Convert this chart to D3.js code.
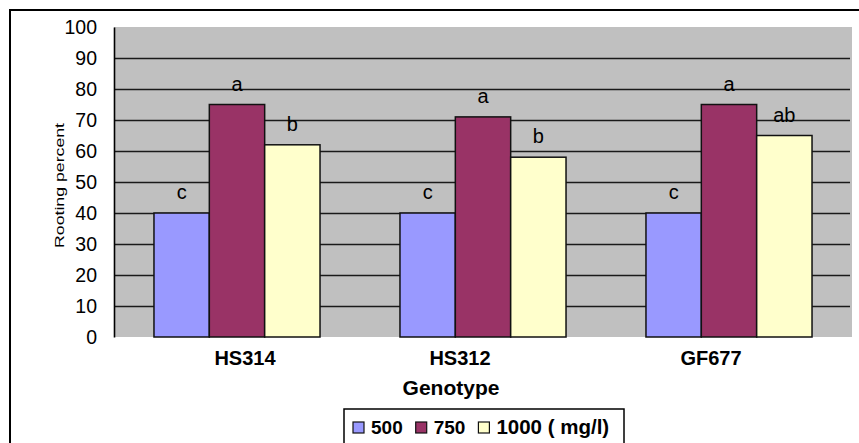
<!DOCTYPE html>
<html>
<head>
<meta charset="utf-8">
<script src="https://cdn.jsdelivr.net/npm/d3@7"></script>
<style>
  html, body { margin: 0; padding: 0; background: #fff; }
  svg { display: block; }
  text { font-family: "Liberation Sans", Arial, sans-serif; fill: #000; }
</style>
</head>
<body>
<svg id="chart" width="859" height="443"></svg>
<script>
// ---- data ----
const categories = ["HS314", "HS312", "GF677"];
const seriesNames = ["500", "750", "1000"];
const legendLabels = ["500", "750", "1000 ( mg/l)"];
const values500 = [40, 40, 40];
const values750 = [75, 71, 75];
const values1000 = [62, 58, 65];
const letters500 = ["c", "c", "c"];
const letters750 = ["a", "a", "a"];
const letters1000 = ["b", "b", "ab"];
const yTicks = [0, 10, 20, 30, 40, 50, 60, 70, 80, 90, 100];
const xTitle = "Genotype";
const yTitle = "Rooting percent";

// ---- layout / style ----
const colors = { "500": "#9999FF", "750": "#993366", "1000": "#FFFFCC" };
const plot = { left: 114, right: 852, top: 27, bottom: 337 };
const labelNudge = [8, -23, -18];          // category label offsets as in the reference

const valuesBySeries = { "500": values500, "750": values750, "1000": values1000 };
const lettersBySeries = { "500": letters500, "750": letters750, "1000": letters1000 };

const rows = [];
categories.forEach((c, i) => {
  seriesNames.forEach(s => {
    rows.push({ cat: c, series: s, value: valuesBySeries[s][i], letter: lettersBySeries[s][i] });
  });
});

const svg = d3.select("#chart");

// outer frame (right/bottom edges lie outside the picture)
svg.append("rect")
  .attr("x", 10).attr("y", 10).attr("width", 880).attr("height", 460)
  .attr("fill", "#fff").attr("stroke", "#000").attr("stroke-width", 2);

const y = d3.scaleLinear().domain([0, 100]).range([plot.bottom, plot.top]);
const x0 = d3.scaleBand().domain(categories).range([plot.left, plot.right])
  .paddingInner(0.325).paddingOuter(0.1625);
const x1 = d3.scaleBand().domain(seriesNames).range([0, x0.bandwidth()]).padding(0);

// plot background
svg.append("rect")
  .attr("x", plot.left).attr("y", plot.top)
  .attr("width", plot.right - plot.left).attr("height", plot.bottom - plot.top)
  .attr("fill", "#C0C0C0");

// gridlines
svg.append("g")
  .selectAll("line")
  .data(yTicks.filter(t => t > 0 && t < 100))
  .join("line")
  .attr("x1", plot.left).attr("x2", plot.right - 2)
  .attr("y1", d => Math.round(y(d)) + 0.5).attr("y2", d => Math.round(y(d)) + 0.5)
  .attr("stroke", "#1a1a1a").attr("stroke-width", 1.3);

// y axis
const yAxis = d3.axisLeft(y).tickValues(yTicks).tickSize(0).tickPadding(17);
const gy = svg.append("g").attr("transform", `translate(${plot.left},0)`).call(yAxis);
gy.select(".domain").attr("stroke", "#000").attr("stroke-width", 1.6);
gy.selectAll("text")
  .attr("font-family", "Liberation Sans, Arial, sans-serif")
  .attr("font-size", 19.5).attr("fill", "#0d0d1a");

// bars
const groups = svg.append("g").selectAll("g")
  .data(categories)
  .join("g")
  .attr("transform", d => `translate(${x0(d)},0)`);

groups.selectAll("rect")
  .data(c => rows.filter(r => r.cat === c))
  .join("rect")
  .attr("x", d => x1(d.series))
  .attr("y", d => y(d.value))
  .attr("width", x1.bandwidth())
  .attr("height", d => y(0) - y(d.value))
  .attr("fill", d => colors[d.series])
  .attr("stroke", "#111").attr("stroke-width", 1.5);

// significance letters
groups.selectAll("text")
  .data(c => rows.filter(r => r.cat === c))
  .join("text")
  .attr("x", d => x1(d.series) + x1.bandwidth() / 2)
  .attr("y", d => y(d.value) - 14)
  .attr("text-anchor", "middle")
  .attr("font-size", 20)
  .text(d => d.letter);

// category labels
svg.append("g").selectAll("text")
  .data(categories)
  .join("text")
  .attr("x", (d, i) => x0(d) + x0.bandwidth() / 2 + labelNudge[i])
  .attr("y", 365)
  .attr("text-anchor", "middle")
  .attr("font-size", 20).attr("font-weight", "bold")
  .text(d => d);

// x title
svg.append("text")
  .attr("x", 451).attr("y", 395)
  .attr("text-anchor", "middle")
  .attr("font-size", 21).attr("font-weight", "bold")
  .text(xTitle);

// y title
svg.append("text")
  .attr("transform", "translate(64,185.5) rotate(-90)")
  .attr("text-anchor", "middle")
  .attr("font-size", 13)
  .attr("textLength", 125).attr("lengthAdjust", "spacingAndGlyphs")
  .text(yTitle);

// legend
const legend = svg.append("g");
legend.append("rect")
  .attr("x", 344).attr("y", 409).attr("width", 280).attr("height", 60)
  .attr("fill", "#fff").attr("stroke", "#000").attr("stroke-width", 1.5);
let lx = 353;
seriesNames.forEach((s, i) => {
  legend.append("rect")
    .attr("x", lx).attr("y", 422).attr("width", 11).attr("height", 11)
    .attr("fill", colors[s]).attr("stroke", "#111").attr("stroke-width", 1.2);
  const t = legend.append("text")
    .attr("x", lx + 18).attr("y", 434)
    .attr("font-size", i === 2 ? 20.5 : 19).attr("font-weight", "bold")
    .text(legendLabels[i]);
  lx += 18 + t.node().getComputedTextLength() + 13;
});
</script>
</body>
</html>
